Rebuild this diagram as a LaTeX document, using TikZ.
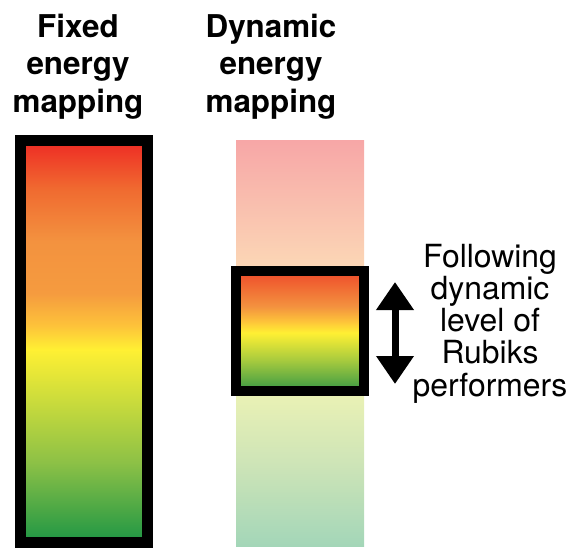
\documentclass[tikz,border=0pt]{standalone}
\usepackage{fontspec}
\setmainfont{TeX Gyre Heros}
\usepackage{xcolor}
\usepackage{tikz}
\usetikzlibrary{arrows.meta,positioning}
\definecolor{gRed}{HTML}{EE2A24}
\definecolor{gRedOr}{HTML}{F06A30}
\definecolor{gOrange}{HTML}{F3923F}
\definecolor{gOrange2}{HTML}{F59B3F}
\definecolor{gAmber}{HTML}{FDC23A}
\definecolor{gYellow}{HTML}{FFF033}
\definecolor{gLime}{HTML}{C9DB3C}
\definecolor{gLeaf}{HTML}{8DC146}
\definecolor{gGreen}{HTML}{1E9645}
\definecolor{fPink}{HTML}{F7A7A7}
\definecolor{fPeach}{HTML}{FBD5B5}
\definecolor{fCream}{HTML}{FCE3B8}
\definecolor{fLime}{HTML}{E9F1B5}
\definecolor{fSage}{HTML}{CDE4B7}
\definecolor{fMint}{HTML}{A3D6B8}
\definecolor{bRed}{HTML}{EE4A2A}
\definecolor{bLeaf}{HTML}{A6CA3E}
\definecolor{bGreen}{HTML}{3A9A45}
\pgfdeclareverticalshading{fixedgrad}{100bp}{color(0bp)=(gGreen); color(25bp)=(gGreen);
  color(35bp)=(gLeaf); color(42.5bp)=(gLime); color(49bp)=(gYellow); color(52bp)=(gAmber);
  color(56bp)=(gOrange2); color(62.5bp)=(gOrange); color(69bp)=(gRedOr); color(75bp)=(gRed);
  color(100bp)=(gRed)}
\pgfdeclareverticalshading{fadedgrad}{100bp}{color(0bp)=(fMint); color(25bp)=(fMint);
  color(35bp)=(fSage); color(43.5bp)=(fLime); color(52bp)=(fCream); color(60bp)=(fPeach);
  color(75bp)=(fPink); color(100bp)=(fPink)}
\pgfdeclareverticalshading{boxgrad}{100bp}{color(0bp)=(bGreen); color(25bp)=(bGreen);
  color(37.5bp)=(bLeaf); color(49bp)=(gYellow); color(54bp)=(gAmber); color(60bp)=(gOrange);
  color(75bp)=(bRed); color(100bp)=(bRed)}
\tikzset{
  title/.style  ={align=center, inner sep=0pt, font=\fontsize{31.5}{37.5}\selectfont\bfseries},
  note/.style   ={align=center, inner sep=0pt, font=\fontsize{32}{32.3}\selectfont},
  fixedbar/.style={rectangle, draw=black, line width=11bp, shading=fixedgrad, inner sep=0pt,
                  minimum width=127bp, minimum height=402bp},
  fadedbar/.style={rectangle, shading=fadedgrad, inner sep=0pt,
                  minimum width=128bp, minimum height=405bp},
  window/.style ={rectangle, draw=black, line width=10bp, shading=boxgrad, inner sep=0pt,
                  minimum width=128bp, minimum height=120bp},
  fat/.style    ={{Triangle[width=36bp,length=28bp]}-{Triangle[width=36bp,length=28bp]},
                  line width=7bp, draw=black},
}
\begin{document}
\begin{tikzpicture}[x=1bp,y=-1bp]
  \useasboundingbox (0,0) rectangle (579,550);
  \node[title,anchor=north] (tfix) at (78,14) {Fixed\\energy\\mapping};
  \node[title,anchor=north] (tdyn) at (271,14) {Dynamic\\energy\\mapping};
  \node[fixedbar] (fix) at (84,341.5) {};
  \node[fadedbar] (dyn) at (300,343.5) {};
  \node[window] (win) at (300,330.5) {};
  \coordinate (up) at (395,282);
  \coordinate (down) at (395,384);
  \draw[fat] (up) -- (down);
  \node[note,anchor=north] (follow) at (490,244) {Following\\dynamic\\level of\\Rubiks\\performers};
\end{tikzpicture}
\end{document}
